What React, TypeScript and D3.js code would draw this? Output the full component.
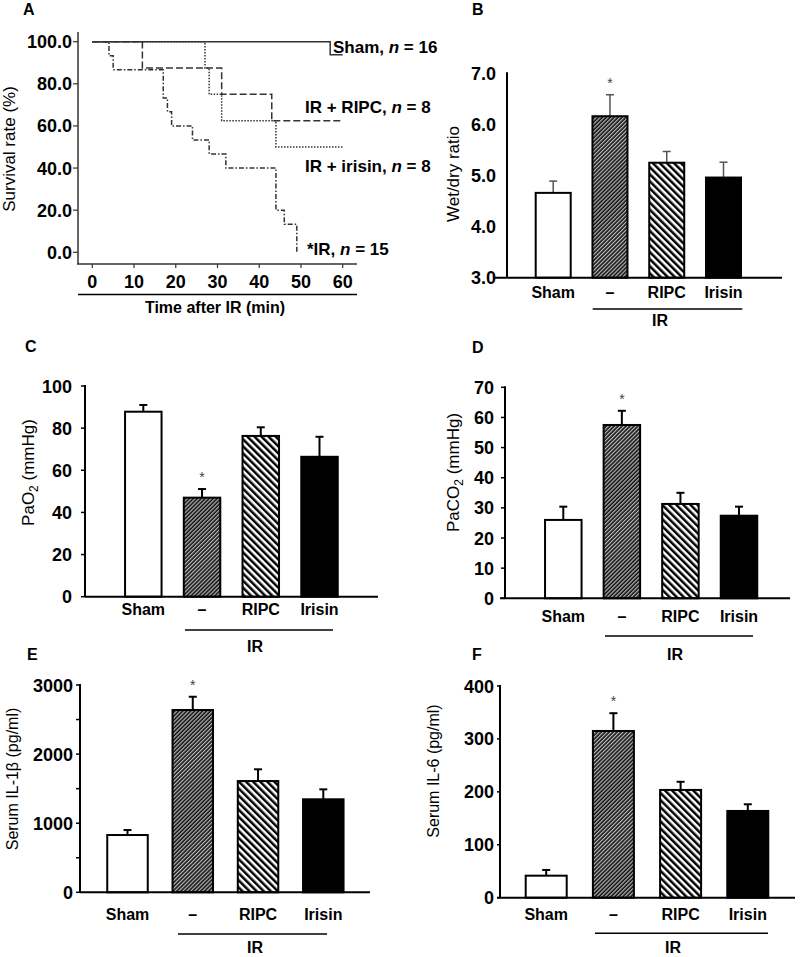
import React from "react";
import * as d3 from "d3";

const FONT = "'Liberation Sans', Arial, Helvetica, sans-serif";

// ---------- Panel A: survival ----------
const timeTicks = [0, 10, 20, 30, 40, 50, 60];
const survivalTicks = [0, 20, 40, 60, 80, 100];
const shamTime = [0, 57, 60];
const shamSurv = [100, 93.75, 93.75];
const ripcTime = [0, 12, 31, 43, 60];
const ripcSurv = [100, 87.5, 75, 62.5, 62.5];
const irisinTime = [0, 27, 28, 31, 44, 60];
const irisinSurv = [100, 87.5, 75, 62.5, 50, 50];
const irTime = [0, 4, 5, 17, 18, 19, 24, 28, 32, 44, 46, 49];
const irSurv = [100, 93.3, 86.7, 73.3, 66.7, 60, 53.3, 46.7, 40, 20, 13.3, 0];

// ---------- Bar panels ----------
const categories = ["Sham", "\u2013", "RIPC", "Irisin"];
const wetDryMean = [4.66, 6.16, 5.25, 4.96];
const wetDryErr = [0.23, 0.42, 0.22, 0.3];
const wetDryTicks = [3, 4, 5, 6, 7];
const paO2Mean = [87.8, 47, 76.3, 66.4];
const paO2Err = [3.2, 4.1, 4.1, 9.5];
const paO2Ticks = [0, 20, 40, 60, 80, 100];
const paCO2Mean = [26, 57.5, 31.3, 27.4];
const paCO2Err = [4.4, 4.7, 3.7, 3.0];
const paCO2Ticks = [0, 10, 20, 30, 40, 50, 60, 70];
const il1bMean = [829, 2638, 1610, 1346];
const il1bErr = [72, 192, 170, 144];
const il1bTicks = [0, 1000, 2000, 3000];
const il1bMinor = [500, 1500, 2500];
const il6Mean = [41.6, 315, 203.6, 163.9];
const il6Err = [10.8, 33.6, 15.4, 12.6];
const il6Ticks = [0, 100, 200, 300, 400];

const fills = ["#fff", "url(#hatchIR)", "url(#hatchRIPC)", "#000"];

const layoutB = { letter: "B", letterX: 472, letterY: 15, axisX: 507, yTop: 73.3, yBottom: 277.7, xAxis: [495, 782], centers: [553.2, 723.5], barW: 35, catY: 298, irLineY: 309, irLineX: [592.7, 742.3], irTextX: 660, irTextY: 326, titleX: 453, titleY: 174, titleSize: 17, tickLen: 0, tickLabelX: 496, errColor: "#555", errW: 1.5 };
const layoutC = { letter: "C", letterX: 25, letterY: 352, axisX: 85, yTop: 386, yBottom: 596.7, xAxis: [85, 378], centers: [143.3, 319.5], barW: 36.5, catY: 615, irLineY: 630, irLineX: [185, 333], irTextX: 255, irTextY: 652, titleX: 28, titleY: 472.5, titleSize: 17, tickLen: 4, tickLabelX: 72, errColor: "#000", errW: 2 };
const layoutD = { letter: "D", letterX: 472, letterY: 353, axisX: 505, yTop: 387.3, yBottom: 598.3, xAxis: [500, 790], centers: [563.3, 739], barW: 36.5, catY: 621.7, irLineY: 636, irLineX: [605, 753], irTextX: 675, irTextY: 660, titleX: 453, titleY: 472.5, titleSize: 17, tickLen: 4, tickLabelX: 494, errColor: "#000", errW: 2 };
const layoutE = { letter: "E", letterX: 27, letterY: 660, axisX: 80, yTop: 685, yBottom: 892.3, xAxis: [80, 370], centers: [127.5, 323.3], barW: 40.5, catY: 920, irLineY: 934, irLineX: [178, 327], irTextX: 255, irTextY: 953, titleX: 12, titleY: 779, titleSize: 16, tickLen: 4, tickLabelX: 73, errColor: "#000", errW: 2 };
const layoutF = { letter: "F", letterX: 472, letterY: 660, axisX: 500, yTop: 686, yBottom: 897.7, xAxis: [497, 795], centers: [546.2, 747.8], barW: 41, catY: 920, irLineY: 933.3, irLineX: [595, 768], irTextX: 673, irTextY: 953, titleX: 433, titleY: 771, titleSize: 16, tickLen: 3, tickLabelX: 494, errColor: "#000", errW: 2 };

function BarPanel({ L, means, errs, ticks, minor, fmt, domain, title }: any) {
  const y = d3.scaleLinear().domain(domain).range([L.yBottom, L.yTop]);
  const x = d3.scalePoint<string>().domain(categories).range(L.centers);
  const f = d3.format(fmt);
  const base = y(domain[0]);
  return (
    <g>
      <text x={L.letterX} y={L.letterY} fontSize={16} fontWeight="bold">{L.letter}</text>
      {ticks.map((t: number) => (
        <g key={"t" + t}>
          {L.tickLen > 0 && <line x1={L.axisX - L.tickLen} x2={L.axisX} y1={y(t)} y2={y(t)} stroke="#000" strokeWidth={1.5} />}
          <text x={L.tickLabelX} y={y(t) + 6.5} textAnchor="end" fontSize={18} fontWeight="bold">{f(t)}</text>
        </g>
      ))}
      {(minor || []).map((t: number) => (
        <line key={"m" + t} x1={L.axisX - L.tickLen} x2={L.axisX} y1={y(t)} y2={y(t)} stroke="#000" strokeWidth={1.5} />
      ))}
      {categories.map((c, i) => {
        const cx = x(c) as number;
        const top = y(means[i]);
        const et = y(means[i] + errs[i]);
        return (
          <g key={c}>
            <line x1={cx} x2={cx} y1={top} y2={et} stroke={L.errColor} strokeWidth={L.errW} />
            <line x1={cx - 4} x2={cx + 4} y1={et} y2={et} stroke={L.errColor} strokeWidth={L.errW} />
            <rect x={cx - L.barW / 2} y={top} width={L.barW} height={base - top} fill={fills[i]} stroke="#000" strokeWidth={2} />
            <text x={cx} y={L.catY} textAnchor="middle" fontSize={16} fontWeight="bold">{c}</text>
            {i === 1 && <text x={cx} y={et - 7} textAnchor="middle" fontSize={14} fill="#444">*</text>}
          </g>
        );
      })}
      <line x1={L.axisX} x2={L.axisX} y1={L.yTop - 1} y2={base} stroke="#000" strokeWidth={2} />
      <line x1={L.xAxis[0]} x2={L.xAxis[1]} y1={base} y2={base} stroke="#000" strokeWidth={2} />
      <line x1={L.irLineX[0]} x2={L.irLineX[1]} y1={L.irLineY} y2={L.irLineY} stroke="#000" strokeWidth={1.5} />
      <text x={L.irTextX} y={L.irTextY} textAnchor="middle" fontSize={16} fontWeight="bold">IR</text>
      <text transform={`translate(${L.titleX + 6},${L.titleY}) rotate(-90)`} textAnchor="middle" fontSize={L.titleSize}>{title}</text>
    </g>
  );
}

function SurvivalPanel() {
  const x = d3.scaleLinear().domain([0, 60]).range([92.3, 342.7]);
  const y = d3.scaleLinear().domain([0, 100]).range([252.3, 41.7]);
  const line = d3
    .line<[number, number]>()
    .x((d) => x(d[0]))
    .y((d) => y(d[1]))
    .curve(d3.curveStepAfter);
  const zip = (t: number[], s: number[]) => t.map((v, i) => [v, s[i]] as [number, number]);
  const series = [
    { t: irTime, s: irSurv, dash: "5,2,1.5,2" },
    { t: irisinTime, s: irisinSurv, dash: "1.5,1.5" },
    { t: ripcTime, s: ripcSurv, dash: "7,3" },
    { t: shamTime, s: shamSurv, dash: undefined },
  ];
  return (
    <g>
      <text x={23} y={15} fontSize={16} fontWeight="bold">A</text>
      {series.map((d, i) => (
        <path key={i} d={line(zip(d.t, d.s)) || ""} fill="none" stroke="#333" strokeWidth={1.5} strokeDasharray={d.dash} />
      ))}
      <line x1={78} x2={78} y1={32} y2={264} stroke="#333" strokeWidth={1.5} />
      <line x1={77} x2={357} y1={264} y2={264} stroke="#333" strokeWidth={1.5} />
      {survivalTicks.map((t) => (
        <g key={"s" + t}>
          <line x1={73} x2={78} y1={y(t)} y2={y(t)} stroke="#333" strokeWidth={1.2} />
          <text x={72} y={y(t) + 6.5} textAnchor="end" fontSize={18} fontWeight="bold">{d3.format(".1f")(t)}</text>
        </g>
      ))}
      {timeTicks.map((t) => (
        <g key={"x" + t}>
          <line x1={x(t)} x2={x(t)} y1={264} y2={268} stroke="#333" strokeWidth={1.2} />
          <text x={x(t)} y={288} textAnchor="middle" fontSize={18} fontWeight="bold">{t}</text>
        </g>
      ))}
      <line x1={78} x2={357} y1={294.5} y2={294.5} stroke="#000" strokeWidth={1.5} />
      <text x={215} y={313} textAnchor="middle" fontSize={16} fontWeight="bold">Time after IR (min)</text>
      <text transform="translate(15,149) rotate(-90)" textAnchor="middle" fontSize={17}>Survival rate (%)</text>
      <g fontSize={17} fontWeight="bold">
        <text x={333} y={53}>Sham, <tspan fontStyle="italic">n</tspan> = 16</text>
        <text x={305} y={113}>IR + RIPC,  <tspan fontStyle="italic">n</tspan> = 8</text>
        <text x={305} y={172}>IR + irisin, <tspan fontStyle="italic">n</tspan> = 8</text>
        <text x={307} y={255}>*IR, <tspan fontStyle="italic">n</tspan> = 15</text>
      </g>
    </g>
  );
}

export default function App() {
  return (
    <svg width={800} height={957} style={{ position: "absolute", left: 0, top: 0, background: "#fff" }} fontFamily={FONT}>
      <defs>
        <pattern id="hatchIR" patternUnits="userSpaceOnUse" width={2.8} height={10} patternTransform="rotate(45)">
          <rect width={2.8} height={10} fill="#111" />
          <rect width={1.2} height={10} fill="#bbb" />
        </pattern>
        <pattern id="hatchRIPC" patternUnits="userSpaceOnUse" width={5} height={10} patternTransform="rotate(-45)">
          <rect width={5} height={10} fill="#fff" />
          <rect width={2.5} height={10} fill="#000" />
        </pattern>
      </defs>
      <rect width={800} height={957} fill="#fff" />
      <SurvivalPanel />
      <BarPanel L={layoutB} means={wetDryMean} errs={wetDryErr} ticks={wetDryTicks} fmt=".1f" domain={[3, 7]} title="Wet/dry ratio" />
      <BarPanel L={layoutC} means={paO2Mean} errs={paO2Err} ticks={paO2Ticks} fmt="d" domain={[0, 100]}
        title={<>PaO<tspan dy={4} fontSize={12}>2</tspan><tspan dy={-4}> (mmHg)</tspan></>} />
      <BarPanel L={layoutD} means={paCO2Mean} errs={paCO2Err} ticks={paCO2Ticks} fmt="d" domain={[0, 70]}
        title={<>PaCO<tspan dy={4} fontSize={12}>2</tspan><tspan dy={-4}> (mmHg)</tspan></>} />
      <BarPanel L={layoutE} means={il1bMean} errs={il1bErr} ticks={il1bTicks} minor={il1bMinor} fmt="d" domain={[0, 3000]} title="Serum IL-1β (pg/ml)" />
      <BarPanel L={layoutF} means={il6Mean} errs={il6Err} ticks={il6Ticks} fmt="d" domain={[0, 400]} title="Serum IL-6 (pg/ml)" />
    </svg>
  );
}
